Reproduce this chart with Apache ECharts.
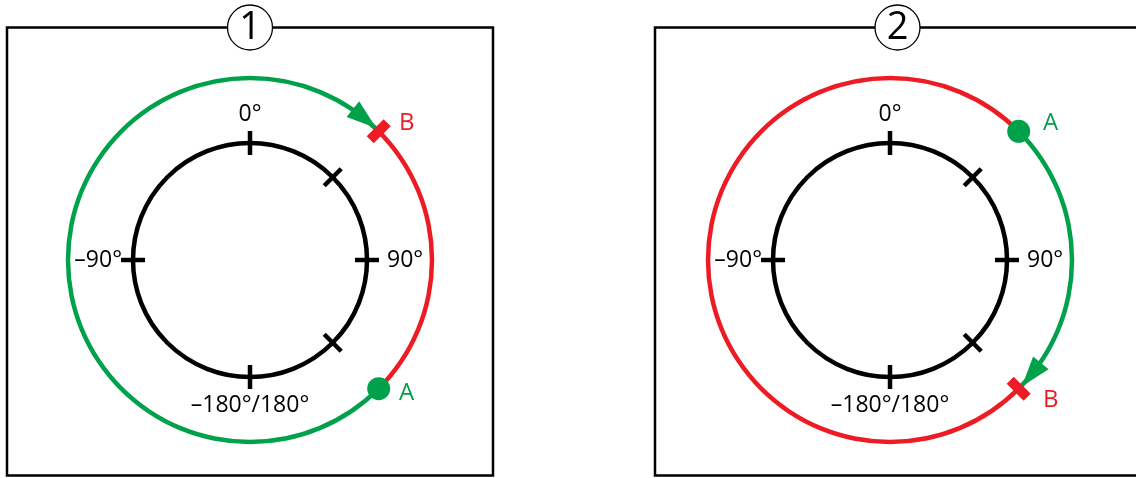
<!DOCTYPE html>
<html>
<head>
<meta charset="utf-8">
<script src="https://cdn.jsdelivr.net/npm/echarts@6/dist/echarts.min.js"></script>
<style>
  html, body { margin: 0; padding: 0; background: #fff; }
  #chart { width: 1136px; height: 478px; }
</style>
</head>
<body>
<div id="chart"></div>
<script>
// angles are degrees, clockwise from the top (0°)
const tickAngles = [0, 45, 90, 135, 180, 270]
const labelAngles = [0, 90, 180, 270]
const labelTexts = ['0°', '90°', '–180°/180°', '–90°']

// arc pieces from 0° round to 360°
const panel1Spans = [45, 90, 225] // green, red, green
const panel2Spans = [45, 90, 225] // red, green, red
const pointA = [135, 45]
const pointB = [45, 135]
const arrowAt = [39, 129]
const panelNames = ['1', '2']

const GREEN = '#00a14b'
const RED = '#ed1c24'
const FONT = '"Open Sans", sans-serif'
const centers = [[250, 260], [890, 260]]
// per-label spacing so each label sits like the original
const labelStyle = ['top', 'right', 'bottom', 'left']

const chart = echarts.init(document.getElementById('chart'))

const polar = []
const angleAxis = []
const radiusAxis = []
const series = []

centers.forEach((c, p) => {
  // inner scale circle
  polar.push({ center: c, radius: 117 })
  angleAxis.push({
    polarIndex: 2 * p,
    type: 'value',
    min: 0,
    max: 360,
    interval: 90,
    startAngle: 90,
    clockwise: true,
    axisLine: { lineStyle: { color: '#000', width: 4.5 } },
    axisTick: { show: false },
    splitLine: { show: false },
    axisLabel: {
      margin: 11,
      color: '#000',
      fontSize: 23,
      fontFamily: FONT,
      formatter: v => {
        const i = labelAngles.indexOf(v)
        if (i < 0 || v === 360) return ''
        return '{' + labelStyle[i] + '|' + labelTexts[i] + '}'
      },
      rich: {
        top: { fontSize: 23, fontFamily: FONT, color: '#000', padding: [0, 0, 6, 0] },
        bottom: { fontSize: 23, fontFamily: FONT, color: '#000', padding: [6, 0, 0, 0] },
        right: { fontSize: 23, fontFamily: FONT, color: '#000', padding: [0, 0, 0, 9] },
        left: { fontSize: 23, fontFamily: FONT, color: '#000' }
      }
    }
  })
  radiusAxis.push({ polarIndex: 2 * p, type: 'value', min: 0, max: 1, show: false })

  // outer ring for the path arcs
  polar.push({ center: c, radius: [179.75, 184.25] })
  angleAxis.push({
    polarIndex: 2 * p + 1,
    type: 'value',
    min: 0,
    max: 360,
    startAngle: 90,
    clockwise: true,
    show: false
  })
  radiusAxis.push({ polarIndex: 2 * p + 1, type: 'category', data: ['ring'], show: false })

  const spans = p === 0 ? panel1Spans : panel2Spans
  const cols = p === 0 ? [GREEN, RED, GREEN] : [RED, GREEN, RED]
  spans.forEach((s, k) => {
    series.push({
      type: 'bar',
      coordinateSystem: 'polar',
      polarIndex: 2 * p + 1,
      stack: 'ring' + p,
      barWidth: 4.5,
      data: [s],
      itemStyle: { color: cols[k] },
      silent: true
    })
  })

  series.push({
    type: 'scatter',
    coordinateSystem: 'polar',
    polarIndex: 2 * p,
    symbol: 'rect',
    symbolSize: [4.5, 24],
    itemStyle: { color: '#000', opacity: 1 },
    data: tickAngles.map(a => ({ value: [1, a], symbolRotate: -a })),
    silent: true,
    z: 3
  })

  series.push({
    type: 'scatter',
    coordinateSystem: 'polar',
    polarIndex: 2 * p + 1,
    symbol: 'triangle',
    symbolSize: [20, 30],
    itemStyle: { color: GREEN, opacity: 1 },
    data: [{ value: [0, arrowAt[p]], symbolRotate: -90 - arrowAt[p] }],
    silent: true,
    z: 4
  })

  const offA = p === 0 ? [28, 4] : [32, -8]
  const offB = p === 0 ? [28, -8] : [32, 11]
  series.push({
    type: 'scatter',
    coordinateSystem: 'polar',
    polarIndex: 2 * p + 1,
    symbol: 'circle',
    symbolSize: 23,
    itemStyle: { color: GREEN, opacity: 1 },
    label: {
      show: true, position: 'inside', offset: offA, formatter: 'A',
      color: GREEN, fontSize: 24, fontFamily: FONT
    },
    data: [{ value: [0, pointA[p]] }],
    silent: true,
    z: 5
  })
  series.push({
    type: 'scatter',
    coordinateSystem: 'polar',
    polarIndex: 2 * p + 1,
    symbol: 'rect',
    symbolSize: [10, 24],
    itemStyle: { color: RED, opacity: 1 },
    label: {
      show: true, position: 'inside', offset: offB, formatter: 'B',
      color: RED, fontSize: 24, fontFamily: FONT, rotate: 0
    },
    data: [{ value: [0, pointB[p]], symbolRotate: -pointB[p] }],
    silent: true,
    z: 5
  })
})

const boxX = [7, 655]
const badgeX = [250, 897.5]
const graphic = []
boxX.forEach((x, p) => {
  graphic.push({
    type: 'rect',
    z: 1,
    shape: { x: x, y: 27.5, width: 486, height: 448 },
    style: { fill: 'none', stroke: '#000', lineWidth: 2.5 }
  })
  graphic.push({
    type: 'circle',
    z: 10,
    shape: { cx: badgeX[p], cy: 27.5, r: 22.5 },
    style: { fill: '#fff', stroke: '#000', lineWidth: 1.3 }
  })
  graphic.push({
    type: 'text',
    z: 11,
    x: badgeX[p],
    y: 28.5,
    style: {
      text: panelNames[p],
      fill: '#000',
      fontSize: 38,
      fontFamily: FONT,
      align: 'center',
      verticalAlign: 'middle'
    }
  })
})

chart.setOption({
  animation: false,
  polar: polar,
  angleAxis: angleAxis,
  radiusAxis: radiusAxis,
  series: series,
  graphic: graphic
})
window.addEventListener('resize', function () {
  chart.resize()
})
</script>
</body>
</html>
